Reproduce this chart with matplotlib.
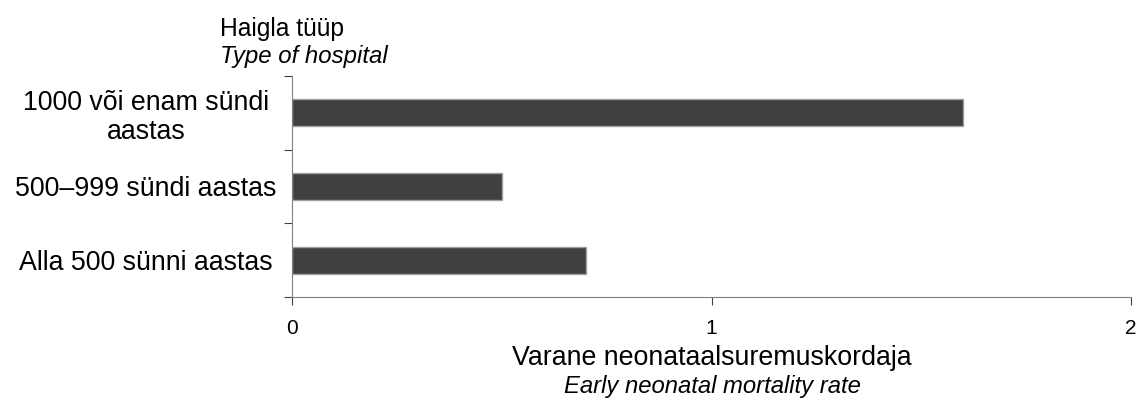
import matplotlib.pyplot as plt
import numpy as np

plt.rcParams['font.family'] = ['Liberation Sans', 'DejaVu Sans']

categories = ["Alla 500 sünni aastas", "500–999 sündi aastas", "1000 või enam sündi\naastas"]
values = [0.7, 0.5, 1.6]
xticks = [0, 1, 2]

fig = plt.figure(figsize=(11.39, 4.03), dpi=100)
ax = fig.add_axes([292 / 1139, 1 - 297 / 403, 839 / 1139, 221 / 403])

y = np.arange(len(categories))
ax.barh(y, values, height=0.37, color='#404040', edgecolor='#a0a0a0', linewidth=1)

ax.set_xlim(0, 2)
ax.set_ylim(-0.5, len(categories) - 0.5)

# major ticks on category boundaries, labels on minor ticks
ax.set_yticks(np.arange(-0.5, len(categories), 1.0))
ax.set_yticklabels([])
ax.set_yticks(y, minor=True)
ax.set_yticklabels(categories, minor=True, fontsize=19.3, ha='center', multialignment='center',
                   linespacing=1.15)
ax.tick_params(axis='y', which='minor', length=0, pad=105)
ax.tick_params(axis='y', which='major', length=6, direction='out', color='#404040')

ax.set_xticks(xticks)
ax.set_xticklabels([str(t) for t in xticks], fontsize=15)
ax.tick_params(axis='x', length=6, direction='out', color='#404040', pad=10)

for s in ['top', 'right']:
    ax.spines[s].set_visible(False)
ax.spines['left'].set_color('#808080')
ax.spines['bottom'].set_color('#808080')

fig.text(220 / 1139, 1 - 36 / 403, "Haigla tüüp", fontsize=17.7, ha='left', va='baseline')
fig.text(220 / 1139, 1 - 63 / 403, "Type of hospital", fontsize=17.3, style='italic', ha='left', va='baseline')

fig.text(712 / 1139, 1 - 365 / 403, "Varane neonataalsuremuskordaja", fontsize=19.3, ha='center', va='baseline')
fig.text(712 / 1139, 1 - 393 / 403, "Early neonatal mortality rate", fontsize=17.2, style='italic', ha='center', va='baseline')

fig.savefig('out.png', dpi=100)
